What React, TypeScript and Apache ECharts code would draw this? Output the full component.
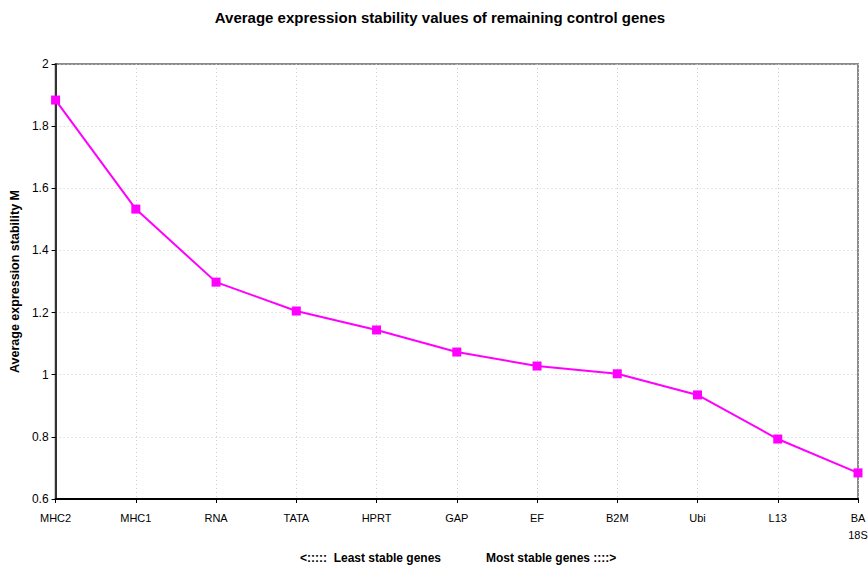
import React, { useEffect, useRef } from "react";
import * as echarts from "echarts";

const genes = ["MHC2", "MHC1", "RNA", "TATA", "HPRT", "GAP", "EF", "B2M", "Ubi", "L13", "BA\n18S"];
const stabilityM = [1.884, 1.533, 1.298, 1.205, 1.144, 1.073, 1.028, 1.003, 0.935, 0.793, 0.684];

const chartTitle = "Average expression stability values of remaining control genes";
const yAxisTitle = "Average expression stability M";
const leftNote = "<:::::  Least stable genes";
const rightNote = "Most stable genes ::::>";

const FONT = "'Liberation Sans', Arial, sans-serif";

export default function App() {
  const ref = useRef<HTMLDivElement>(null);

  useEffect(() => {
    if (!ref.current) return;
    const chart = echarts.init(ref.current, undefined, { renderer: "svg" });
    chart.setOption({
      animation: false,
      backgroundColor: "#ffffff",
      textStyle: { fontFamily: FONT },
      grid: {
        left: 55,
        top: 64,
        right: 42,
        bottom: 70,
        show: true,
        borderColor: "#8a8a8a",
        borderWidth: 2,
      },
      xAxis: {
        type: "category",
        data: genes,
        boundaryGap: false,
        axisLine: { lineStyle: { color: "#000", width: 2 } },
        axisTick: { show: true, length: 4, alignWithLabel: true, lineStyle: { color: "#000" } },
        axisLabel: { color: "#000", fontSize: 11, fontFamily: FONT, margin: 10, lineHeight: 17, interval: 0 },
        splitLine: { show: true, lineStyle: { color: "#cccccc", type: [1, 3], width: 1 } },
      },
      yAxis: {
        type: "value",
        min: 0.6,
        max: 2,
        interval: 0.2,
        name: yAxisTitle,
        nameLocation: "middle",
        nameGap: 33,
        nameTextStyle: { color: "#000", fontSize: 12.5, fontWeight: "bold", fontFamily: FONT },
        axisLine: { show: true, lineStyle: { color: "#333", width: 2 } },
        axisTick: { show: true, length: 4, lineStyle: { color: "#000" } },
        axisLabel: {
          color: "#000",
          fontSize: 12,
          fontFamily: FONT,
          margin: 7,
          formatter: (v: number) => String(Math.round(v * 10) / 10),
        },
        splitLine: { show: true, lineStyle: { color: "#cccccc", type: [1, 3], width: 1 } },
      },
      series: [
        {
          type: "line",
          data: stabilityM,
          symbol: "rect",
          symbolSize: 9,
          lineStyle: { color: "#ff00ff", width: 2 },
          itemStyle: { color: "#ff00ff" },
        },
      ],
      graphic: [
        {
          type: "text",
          x: 440,
          y: 17,
          style: {
            text: chartTitle,
            fill: "#000",
            font: `bold 15px ${FONT}`,
            textAlign: "center",
            textVerticalAlign: "middle",
          },
        },
        {
          type: "text",
          x: 300,
          y: 558,
          style: {
            text: leftNote,
            fill: "#000",
            font: `bold 12px ${FONT}`,
            textAlign: "left",
            textVerticalAlign: "middle",
          },
        },
        {
          type: "text",
          x: 486,
          y: 558,
          style: {
            text: rightNote,
            fill: "#000",
            font: `bold 12px ${FONT}`,
            textAlign: "left",
            textVerticalAlign: "middle",
          },
        },
      ],
    });
    return () => chart.dispose();
  }, []);

  return (
    <div
      ref={ref}
      style={{ position: "fixed", left: 0, top: 0, width: 900, height: 569, overflow: "hidden" }}
    />
  );
}
